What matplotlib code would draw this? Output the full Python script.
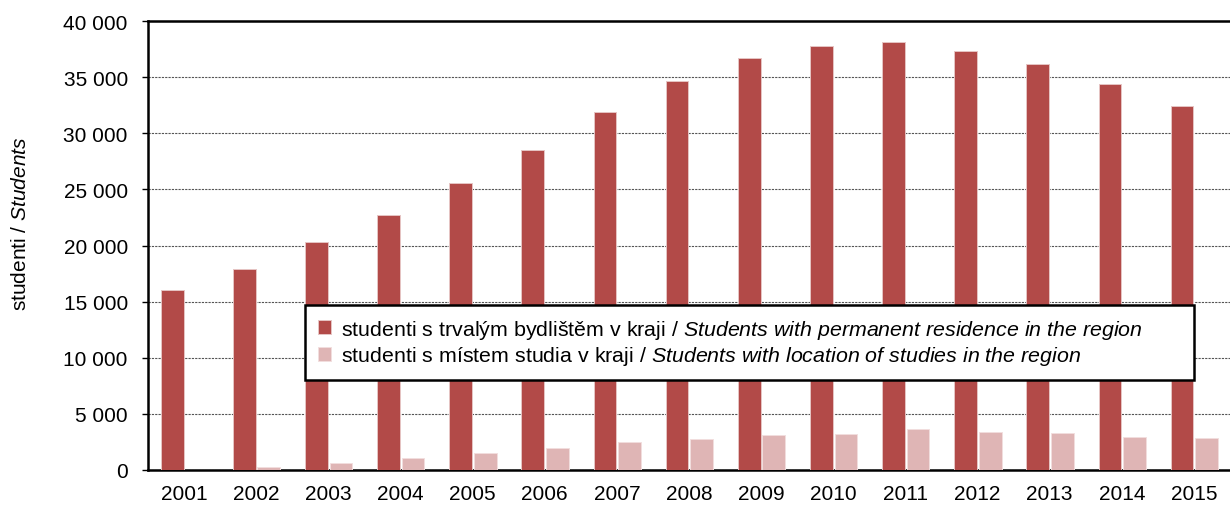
import matplotlib
matplotlib.use("Agg")
import matplotlib.pyplot as plt
import numpy as np
from matplotlib.ticker import FuncFormatter

plt.rcParams["font.family"] = ["Liberation Sans", "DejaVu Sans"]
plt.rcParams["mathtext.fontset"] = "custom"
plt.rcParams["mathtext.rm"] = "Liberation Sans"
plt.rcParams["mathtext.it"] = "Liberation Sans:italic"

years = ["2001", "2002", "2003", "2004", "2005", "2006", "2007", "2008",
         "2009", "2010", "2011", "2012", "2013", "2014", "2015"]
residence = [16000, 17900, 20350, 22750, 25550, 28490, 31850, 34670,
             36720, 37760, 38170, 37340, 36180, 34370, 32410]
study = [0, 240, 620, 1040, 1490, 1930, 2470, 2760,
         3120, 3210, 3620, 3390, 3330, 2970, 2850]

label_res = r"studenti s trvalým bydlištěm v kraji / $\mathit{Students\ with\ permanent\ residence\ in\ the\ region}$"
label_study = r"studenti s místem studia v kraji / $\mathit{Students\ with\ location\ of\ studies\ in\ the\ region}$"

DARK = "#b24a48"
LIGHT = "#dfb5b5"
FS = 15

fig = plt.figure(figsize=(12.30, 5.06), dpi=100)
ax = fig.add_axes([148 / 1230, 35 / 506, 1082 / 1230, 449 / 506])

x = np.arange(len(years))
w = 0.315
ax.bar(x - 0.165, residence, w, color=DARK, edgecolor="#e6c4c4", linewidth=0.7,
       zorder=3, label=label_res)
ax.bar(x + 0.175, study, w, color=LIGHT, edgecolor="#f2dede", linewidth=0.7,
       zorder=3, label=label_study)

ax.set_xlim(-0.5, len(years) - 0.5)
ax.set_ylim(0, 40000)
ax.set_yticks(range(0, 40001, 5000))
ax.yaxis.set_major_formatter(FuncFormatter(lambda v, p: f"{int(v):,}".replace(",", " ")))
ax.set_xticks(x)
ax.set_xticklabels(years)

ax.grid(axis="y", color="#555555", linestyle=(0, (2, 1)), linewidth=0.8, zorder=1)
ax.set_axisbelow(True)

for s in ["left", "top", "bottom"]:
    ax.spines[s].set_linewidth(1.8)
    ax.spines[s].set_color("black")
ax.spines["right"].set_visible(False)

ax.tick_params(axis="y", length=4.5, width=1, pad=10, labelsize=FS)
ax.tick_params(axis="x", length=0, pad=10, labelsize=FS)

fig.text(20 / 1230, 1 - 224 / 506, r"studenti / $\mathit{Students}$", rotation=90,
         ha="center", va="center", fontsize=15)

leg = ax.legend(loc="upper left", bbox_to_anchor=(0.1451, 0.196, 0.8216, 0.1715),
                mode="expand", borderaxespad=0, fontsize=15.4, frameon=True,
                fancybox=False, framealpha=1, handlelength=0.6, handleheight=0.6,
                handletextpad=0.5, borderpad=0.6, labelspacing=0.17)
leg.get_frame().set_edgecolor("black")
leg.get_frame().set_linewidth(1.8)
leg.set_zorder(5)

fig.savefig("out.png", dpi=100)
